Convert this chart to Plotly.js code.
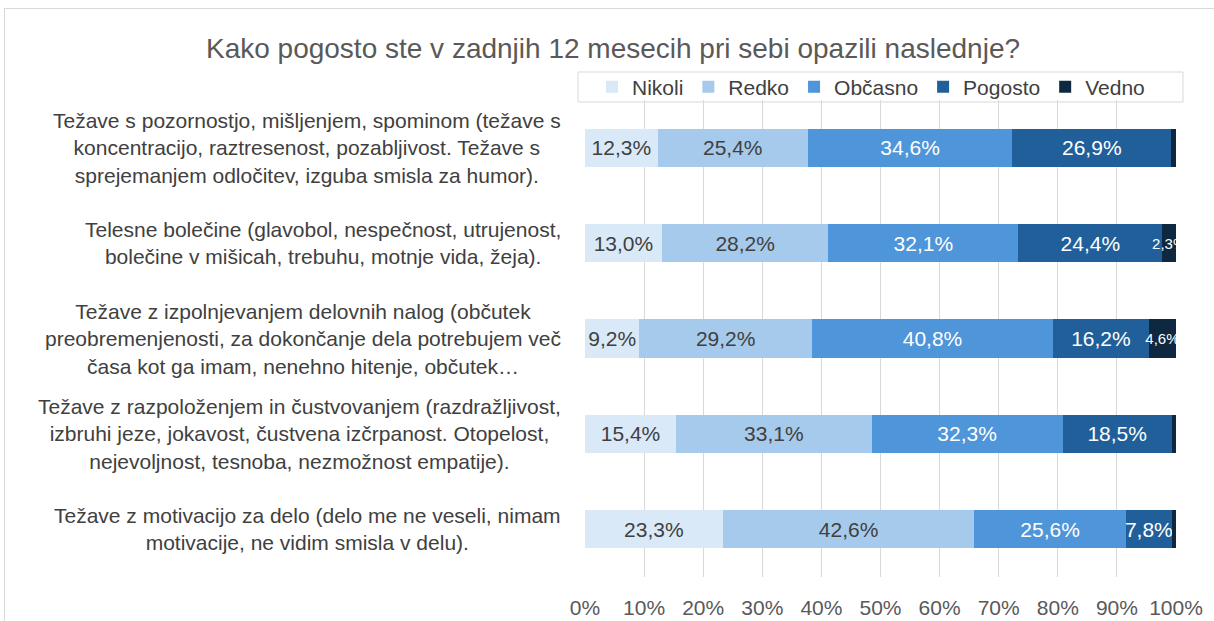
<!DOCTYPE html>
<html>
<head>
<meta charset="utf-8">
<script src="https://cdn.plot.ly/plotly-3.0.1.min.js"></script>
<style>
html,body{margin:0;padding:0;background:#fff;}
#chart{width:1214px;height:621px;}
#frame{position:absolute;left:4px;top:8px;width:1230px;height:640px;border:1px solid #d9d9d9;pointer-events:none;}
</style>
</head>
<body>
<div id="chart"></div>
<div id="frame"></div>
<script>
const categories = [
  "Težave s pozornostjo, mišljenjem, spominom (težave s<br>koncentracijo, raztresenost, pozabljivost. Težave s<br>sprejemanjem odločitev, izguba smisla za humor).",
  "Telesne bolečine (glavobol, nespečnost, utrujenost,<br>bolečine v mišicah, trebuhu, motnje vida, žeja).",
  "Težave z izpolnjevanjem delovnih nalog (občutek<br>preobremenjenosti, za dokončanje dela potrebujem več<br>časa kot ga imam, nenehno hitenje, občutek…",
  "Težave z razpoloženjem in čustvovanjem (razdražljivost,<br>izbruhi jeze, jokavost, čustvena izčrpanost. Otopelost,<br>nejevoljnost, tesnoba, nezmožnost empatije).",
  "Težave z motivacijo za delo (delo me ne veseli, nimam<br>motivacije, ne vidim smisla v delu)."
];
const seriesNames = ["Nikoli", "Redko", "Občasno", "Pogosto", "Vedno"];
const nikoli  = [12.3, 13.0, 9.2, 15.4, 23.3];
const redko   = [25.4, 28.2, 29.2, 33.1, 42.6];
const obcasno = [34.6, 32.1, 40.8, 32.3, 25.6];
const pogosto = [26.9, 24.4, 16.2, 18.5, 7.8];
const vedno   = [0.8, 2.3, 4.6, 0.7, 0.7];
const xTicks  = [0, 10, 20, 30, 40, 50, 60, 70, 80, 90, 100];

const colors = ["#dae9f8", "#a6caec", "#4e95d9", "#215f9a", "#0e2841"];
const textColors = ["#404040", "#404040", "#ffffff", "#ffffff", "#ffffff"];
const textSizes = [21, 21, 21, 21, 15];
const allSeries = [nikoli, redko, obcasno, pogosto, vedno];
const fmt = v => v.toFixed(1).replace('.', ',') + '%';
const FONT = "Liberation Sans, Arial, sans-serif";

const yIdx = categories.map((c, i) => i);

const traces = allSeries.map((vals, s) => ({
  type: 'bar',
  orientation: 'h',
  name: seriesNames[s],
  y: yIdx,
  x: vals,
  text: vals.map(v => v >= 2 ? fmt(v) : ''),
  textposition: 'inside',
  insidetextanchor: 'middle',
  textangle: 0,
  constraintext: 'none',
  cliponaxis: true,
  textfont: {family: FONT, size: textSizes[s], color: textColors[s]},
  marker: {color: colors[s], line: {width: 0}},
  hoverinfo: 'skip'
}));

const annotations = categories.map((c, i) => ({
  xref: 'paper', yref: 'y',
  x: 0, y: i,
  xanchor: 'right', yanchor: 'middle',
  xshift: -22,
  align: 'center',
  text: c,
  showarrow: false,
  font: {family: FONT, size: 21, color: '#404040'}
}));

const PL = 585, PR = 1176, PT = 100, PB = 577;
const px2x = p => (p - PL) / (PR - PL);
const px2y = p => (PB - p) / (PB - PT);

const layout = {
  width: 1214, height: 621,
  paper_bgcolor: '#ffffff', plot_bgcolor: '#ffffff',
  margin: {l: PL, r: 1214 - PR, t: PT, b: 621 - PB},
  barmode: 'stack',
  bargap: 0.6,
  title: {
    text: "Kako pogosto ste v zadnjih 12 mesecih pri sebi opazili naslednje?",
    x: 613 / 1214, xanchor: 'center', xref: 'container',
    y: 1 - 48/621, yanchor: 'middle', yref: 'container',
    font: {family: FONT, size: 28, color: '#595959'}
  },
  xaxis: {
    range: [0, 100],
    tickvals: xTicks,
    ticktext: xTicks.map(v => v + '%'),
    showgrid: true, gridcolor: '#d9d9d9', gridwidth: 1,
    zeroline: false, showline: false,
    ticks: 'outside', ticklen: 12, tickcolor: 'rgba(0,0,0,0)',
    tickfont: {family: FONT, size: 21, color: '#595959'},
    fixedrange: true
  },
  yaxis: {
    autorange: 'reversed',
    range: [4.5, -0.5],
    showticklabels: false,
    showgrid: false, zeroline: false, showline: false,
    ticks: '',
    fixedrange: true
  },
  legend: {
    orientation: 'h',
    x: px2x(592), xanchor: 'left',
    y: px2y(87), yanchor: 'middle',
    bgcolor: 'rgba(0,0,0,0)',
    borderwidth: 0,
    font: {family: FONT, size: 21, color: '#404040'},
    traceorder: 'normal',
    itemwidth: 30
  },
  shapes: [{
    type: 'rect', xref: 'paper', yref: 'paper',
    x0: px2x(578), x1: px2x(1183), y0: px2y(102), y1: px2y(72),
    line: {color: '#d9d9d9', width: 1}, fillcolor: 'rgba(0,0,0,0)', layer: 'below'
  }],
  annotations: annotations,
  showlegend: true
};

Plotly.newPlot('chart', traces, layout, {displayModeBar: false, staticPlot: true});
</script>
</body>
</html>
